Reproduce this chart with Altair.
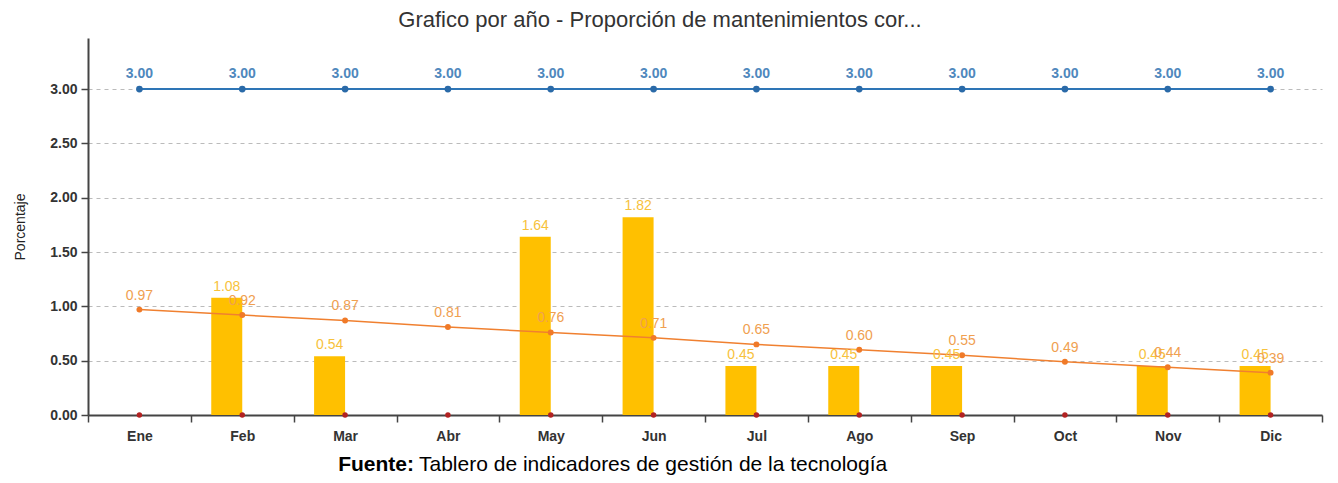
import altair as alt
import pandas as pd

meses = ["Ene", "Feb", "Mar", "Abr", "May", "Jun", "Jul", "Ago", "Sep", "Oct", "Nov", "Dic"]
barras = [0, 1.08, 0.54, 0, 1.64, 1.82, 0.45, 0.45, 0.45, 0, 0.45, 0.45]
tendencia = [0.97, 0.92, 0.87, 0.81, 0.76, 0.71, 0.65, 0.60, 0.55, 0.49, 0.44, 0.39]
meta = [3.00] * 12
cero = [0] * 12
y_ticks = [0, 0.5, 1.0, 1.5, 2.0, 2.5, 3.0]

df = pd.DataFrame({"mes": meses, "barras": barras, "tendencia": tendencia,
                   "meta": meta, "cero": cero})

FONT = "Liberation Sans"
W, H = 1234, 377

x = alt.X("mes:N", sort=meses, title=None,
          scale=alt.Scale(paddingInner=0, paddingOuter=0),
          axis=alt.Axis(labelAngle=0, labelFontWeight="bold", labelFontSize=14,
                        labelColor="#333", labelFont=FONT, tickBand="extent",
                        tickSize=7, tickColor="#444", tickWidth=1.5,
                        domainColor="#444", domainWidth=2, labelPadding=7))
yscale = alt.Scale(domain=[0, 3.47], nice=False)
yaxis = alt.Axis(values=y_ticks, format=".2f", labelFontWeight="bold",
                 labelFontSize=14, labelColor="#333", labelFont=FONT,
                 tickSize=7, tickColor="#444", tickWidth=1.5,
                 domainColor="#444", domainWidth=2,
                 grid=True, gridDash=[4, 4], gridColor="#bbbbbb",
                 titleFont=FONT, titleFontSize=14, titleFontWeight="normal",
                 titleColor="#222", titlePadding=22, labelPadding=4)

def yenc(field):
    return alt.Y(f"{field}:Q", scale=yscale, title="Porcentaje", axis=yaxis)

base = alt.Chart(df)

bars = base.mark_bar(width=31, xOffset=-15.5, color="#ffc000").encode(
    x=x, y=yenc("barras"))

bar_labels = base.transform_filter("datum.barras > 0").mark_text(
    xOffset=-15.5, dy=-11, color="#f7c23c", fontSize=14, font=FONT
).encode(x=x, y=yenc("barras"), text=alt.Text("barras:Q", format=".2f"))

meta_line = base.mark_line(color="#2e75b6", strokeWidth=2,
                           point=alt.OverlayMarkDef(color="#2a6aa8", size=45, filled=True)
                           ).encode(x=x, y=yenc("meta"))
meta_labels = base.mark_text(dy=-15, color="#4f88bd", fontSize=14, fontWeight="bold",
                             font=FONT).encode(x=x, y=yenc("meta"),
                                               text=alt.Text("meta:Q", format=".2f"))

trend_line = base.mark_line(color="#f08030", strokeWidth=1.5,
                            point=alt.OverlayMarkDef(color="#f07a28", size=35, filled=True)
                            ).encode(x=x, y=yenc("tendencia"))
trend_labels = base.mark_text(dy=-14, color="#f0a050", fontSize=14, font=FONT).encode(
    x=x, y=yenc("tendencia"), text=alt.Text("tendencia:Q", format=".2f"))

zero_pts = base.mark_point(color="#b22222", size=30, filled=True, opacity=1).encode(
    x=x, y=yenc("cero"))

cap_df = pd.DataFrame({"a": ["Fuente:"], "b": ["Tablero de indicadores de gestión de la tecnología"]})
cap1 = alt.Chart(cap_df).mark_text(align="right", baseline="alphabetic", fontSize=21,
                                   fontWeight="bold", font=FONT, color="#000").encode(
    text="a:N", x=alt.value(326), y=alt.value(H + 56))
cap2 = alt.Chart(cap_df).mark_text(align="left", baseline="alphabetic", fontSize=21,
                                   font=FONT, color="#000").encode(
    text="b:N", x=alt.value(331), y=alt.value(H + 56))

chart = alt.layer(
    bars, meta_line, trend_line, zero_pts, bar_labels, trend_labels, meta_labels, cap1, cap2
).properties(
    width=W, height=H,
    title=alt.TitleParams("Grafico por año - Proporción de mantenimientos cor...",
                          fontSize=22, fontWeight="normal", font=FONT, color="#333",
                          anchor="middle", dx=-45, offset=6),
    padding={"left": 80, "top": 30, "right": 8, "bottom": 60},
    autosize=alt.AutoSizeParams(type="none"),
).configure_view(stroke=None)

chart.save("out.html", embed_options={"renderer": "svg", "actions": False})
